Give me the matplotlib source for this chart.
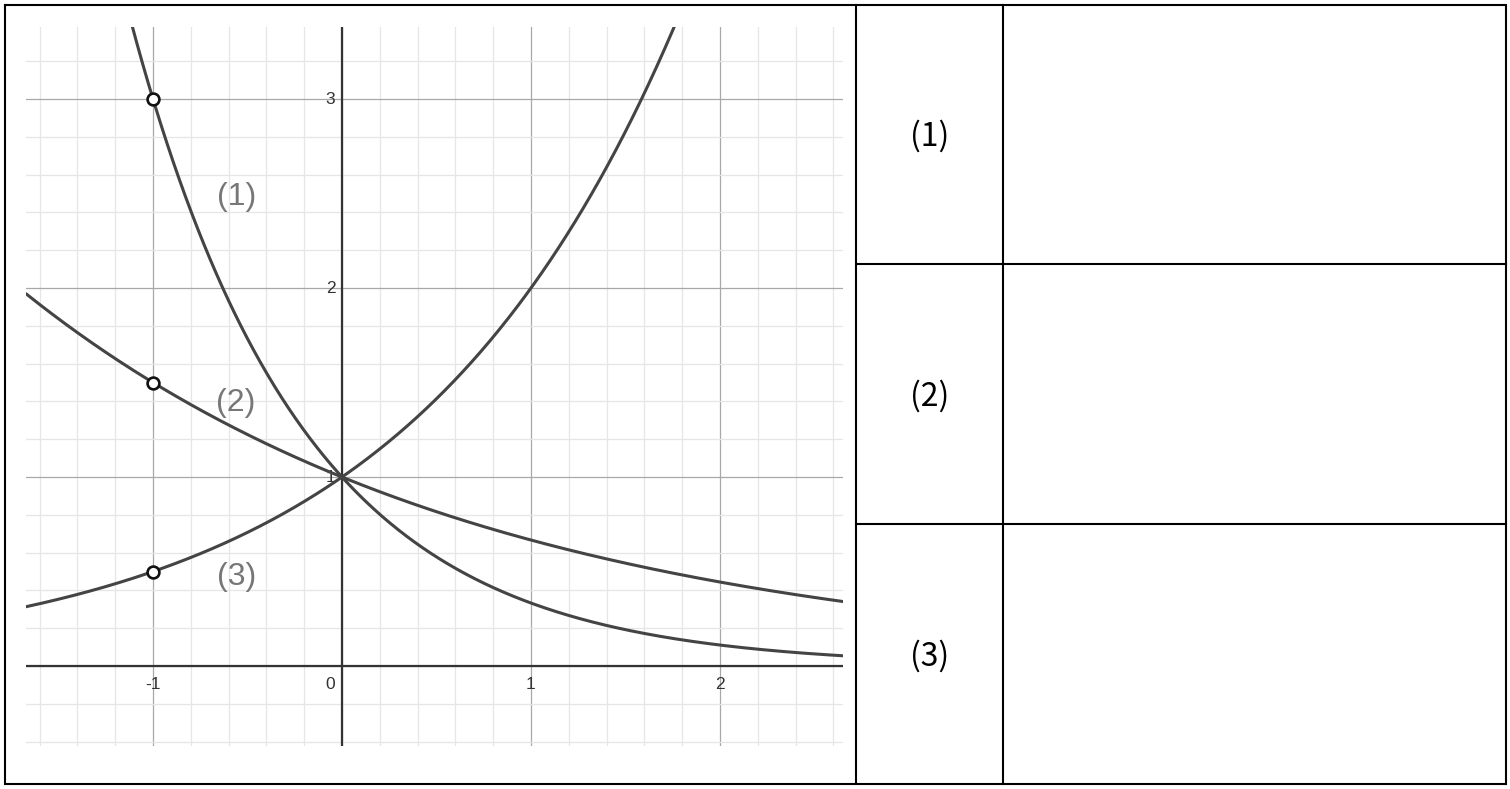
import numpy as np
import matplotlib
matplotlib.use("Agg")
import matplotlib.pyplot as plt
from matplotlib.ticker import MultipleLocator

# ---- data ----
curve_labels = ["(1)", "(2)", "(3)"]
curve_bases = [1/3, 2/3, 2.0]          # y = base ** x
point_x = [-1, -1, -1]
point_y = [3, 1.5, 0.5]
label_pos_x = [-0.56, -0.56, -0.56]
label_pos_y = [2.48, 1.39, 0.47]
x_tick_vals = [-1, 0, 1, 2]
x_tick_text = ["-1", "0", "1", "2"]
y_tick_vals = [1, 2, 3]
y_tick_text = ["1", "2", "3"]
table_labels = ["(1)", "(2)", "(3)"]

W, H = 1510, 789
fig = plt.figure(figsize=(W/100, H/100), dpi=100)
fig.patch.set_facecolor("white")

# plot area in pixel coordinates
px0, px1, py0, py1 = 26, 843, 27, 746
ax = fig.add_axes([px0/W, 1 - py1/H, (px1-px0)/W, (py1-py0)/H])
xmin, xmax = -1.672, 2.651
ymin, ymax = -0.423, 3.381
ax.set_xlim(xmin, xmax)
ax.set_ylim(ymin, ymax)
for s in ax.spines.values():
    s.set_visible(False)
ax.xaxis.set_major_locator(MultipleLocator(1))
ax.yaxis.set_major_locator(MultipleLocator(1))
ax.xaxis.set_minor_locator(MultipleLocator(0.2))
ax.yaxis.set_minor_locator(MultipleLocator(0.2))
ax.tick_params(which="both", length=0, labelbottom=False, labelleft=False)
ax.grid(which="minor", color="#e6e6e6", linewidth=0.9)
ax.grid(which="major", color="#a8a8a8", linewidth=0.9)
ax.set_axisbelow(True)

ax.axhline(0, color="#333333", linewidth=1.6, zorder=2)
ax.axvline(0, color="#333333", linewidth=1.6, zorder=2)

tick_font = ["Liberation Sans", "DejaVu Sans"]
for v, t in zip(x_tick_vals, x_tick_text):
    xx = v if v != 0 else -0.065
    ax.text(xx, -0.095, t, ha="center", va="center", fontsize=12.5,
            color="#333333", family=tick_font, zorder=3)
for v, t in zip(y_tick_vals, y_tick_text):
    ax.text(-0.035, v, t, ha="right", va="center", fontsize=12.5,
            color="#333333", family=tick_font, zorder=3)

x = np.linspace(xmin, xmax, 800)
for b in curve_bases:
    ax.plot(x, b ** x, color="#444444", linewidth=2.2, zorder=4,
            solid_capstyle="round")

ax.plot(point_x, point_y, linestyle="none", marker="o", markersize=8.5,
        markerfacecolor="white", markeredgecolor="#111111",
        markeredgewidth=1.9, zorder=5)

for lx, ly, t in zip(label_pos_x, label_pos_y, curve_labels):
    ax.text(lx, ly, t, ha="center", va="center", fontsize=23,
            color="#777777", family=tick_font, zorder=6)

# ---- table frame ----
ov = fig.add_axes([0, 0, 1, 1], facecolor="none")
ov.set_xlim(0, W)
ov.set_ylim(H, 0)
ov.axis("off")
lw = 1.5
left, right, top, bottom = 5, 1506, 5, 784
col1, col2 = 856, 1003
rows = [264, 524]
ov.plot([left, right, right, left, left], [top, top, bottom, bottom, top],
        color="black", linewidth=lw, solid_joinstyle="miter")
for c in (col1, col2):
    ov.plot([c, c], [top, bottom], color="black", linewidth=lw)
for r in rows:
    ov.plot([col1, right], [r, r], color="black", linewidth=lw)

edges = [top] + rows + [bottom]
for i, t in enumerate(table_labels):
    cy = (edges[i] + edges[i+1]) / 2 + 2
    ov.text((col1 + col2) / 2, cy, t, ha="center", va="center",
            fontsize=23, color="black",
            family=["Noto Sans CJK KR", "DejaVu Sans"])

fig.savefig("out.png", dpi=100)
